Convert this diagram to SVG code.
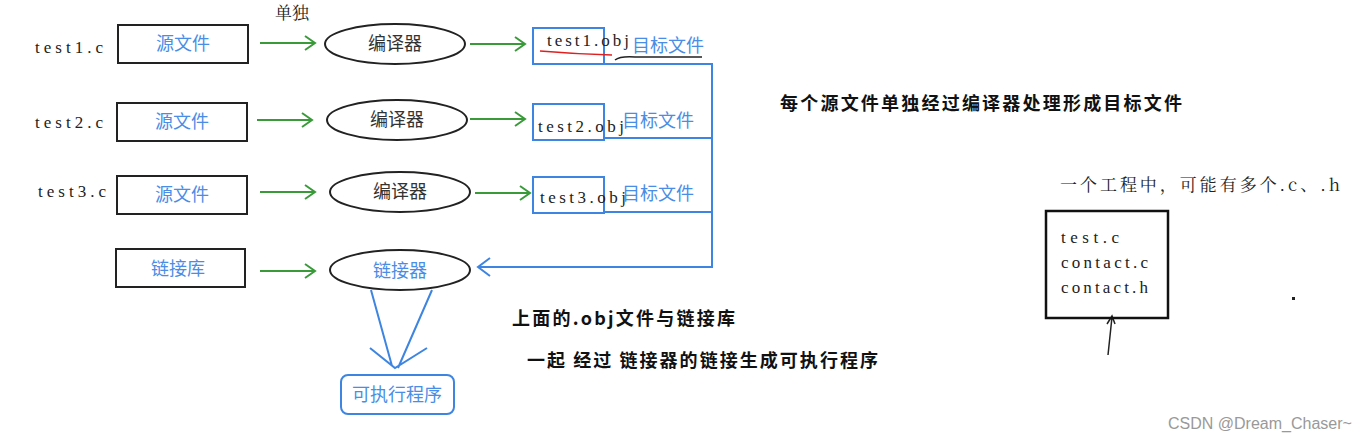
<svg xmlns="http://www.w3.org/2000/svg" width="1369" height="442" viewBox="0 0 1369 442">
<defs>
<style>
.mono{font-family:"Liberation Serif","Noto Serif CJK SC",serif;font-size:17px;fill:#222}
.serifcjk{font-family:"Noto Serif CJK SC","Noto Sans CJK SC","Liberation Serif",serif;font-size:17px;fill:#222}
.blue{font-family:"Noto Sans CJK SC",sans-serif;font-size:18px;fill:#4a8de6}
.dark{font-family:"Noto Sans CJK SC",sans-serif;font-size:18px;fill:#333}
.bold{font-family:"Noto Sans CJK SC",sans-serif;font-size:18px;font-weight:bold;fill:#111}
.box{fill:#fff;stroke:#222;stroke-width:2}
.ell{fill:#fff;stroke:#222;stroke-width:2}
.bbox{fill:none;stroke:#3d85e0;stroke-width:2}
.g{fill:none;stroke:#3a9a3a;stroke-width:2}
.b{fill:none;stroke:#3d85e0;stroke-width:2}
</style>
</defs>
<rect width="1369" height="442" fill="#fff"/>

<text class="serifcjk" x="275" y="19">单独</text>

<g id="src1"><text class="mono" x="35" y="53" textLength="68">test1.c</text><rect class="box" x="118" y="25" width="130" height="38"/><text class="blue" x="183" y="50" text-anchor="middle">源文件</text></g>
<g id="src2"><text class="mono" x="35" y="128" textLength="68">test2.c</text><rect class="box" x="117" y="103" width="130" height="38"/><text class="blue" x="182" y="128" text-anchor="middle">源文件</text></g>
<g id="src3"><text class="mono" x="38" y="197" textLength="68">test3.c</text><rect class="box" x="117" y="176" width="130" height="38"/><text class="blue" x="182" y="201" text-anchor="middle">源文件</text></g>
<g id="lib"><rect class="box" x="116" y="249" width="129" height="38"/><text class="blue" x="178" y="275" text-anchor="middle">链接库</text></g>

<g id="cc1"><ellipse class="ell" cx="395" cy="44" rx="70" ry="20"/><text class="dark" x="395" y="50" text-anchor="middle">编译器</text></g>
<g id="cc2"><ellipse class="ell" cx="397" cy="120" rx="70" ry="20"/><text class="dark" x="397" y="126" text-anchor="middle">编译器</text></g>
<g id="cc3"><ellipse class="ell" cx="400" cy="192" rx="70" ry="20"/><text class="dark" x="400" y="198" text-anchor="middle">编译器</text></g>
<g id="linker"><ellipse class="ell" cx="400" cy="270" rx="70" ry="20"/><text class="blue" x="400" y="277" text-anchor="middle">链接器</text></g>

<g id="obj1"><rect class="bbox" x="533" y="28" width="71" height="36"/><text class="mono" x="547" y="46" textLength="82">test1.obj</text><path d="M540 51 Q575 54 612 55" fill="none" stroke="#e02020" stroke-width="1.5"/><text class="blue" x="632" y="52" font-size="17">目标文件</text><path d="M615 60 Q620 56 635 57 L702 57" fill="none" stroke="#222" stroke-width="1.5"/></g>
<g id="obj2"><rect class="bbox" x="533" y="104" width="71" height="36"/><text class="mono" x="538" y="132" textLength="86">test2.obj</text><text class="blue" x="622" y="127">目标文件</text></g>
<g id="obj3"><rect class="bbox" x="533" y="177" width="71" height="36"/><text class="mono" x="540" y="203" textLength="86">test3.obj</text><text class="blue" x="622" y="200">目标文件</text></g>

<g id="exe"><rect x="341" y="375" width="113" height="39" rx="7" fill="none" stroke="#3d85e0" stroke-width="2"/><text class="blue" x="397" y="401" text-anchor="middle">可执行程序</text></g>

<g id="connectors">
<path class="g" d="M260 43 H315 M305 36 L315 43 L305 50"/>
<path class="g" d="M470 44 H525 M515 37 L525 44 L515 51"/>
<path class="g" d="M257 120 H312 M302 113 L312 120 L302 127"/>
<path class="g" d="M470 119 H525 M515 112 L525 119 L515 126"/>
<path class="g" d="M260 192 H315 M305 185 L315 192 L305 199"/>
<path class="g" d="M475 193 H530 M520 186 L530 193 L520 200"/>
<path class="g" d="M260 271 H315 M305 264 L315 271 L305 278"/>
<path class="b" d="M604 64 H712 V267 H478 M490 258 L478 267 L490 276"/>
<path class="b" d="M604 138 H712"/>
<path class="b" d="M604 212 H712"/>
<path class="b" d="M371 290 L392 366 M432 290 L398 368 M370 348 L395 368 L427 348"/>
<path d="M1108 355 L1112 317 M1107 324 L1112 316 L1115 324" fill="none" stroke="#222" stroke-width="1.5"/>
</g>

<g id="project"><rect x="1046" y="211" width="122" height="107" fill="none" stroke="#111" stroke-width="2.5"/><text class="mono" x="1061" y="243" textLength="58">test.c</text><text class="mono" x="1061" y="268" textLength="87">contact.c</text><text class="mono" x="1061" y="293" textLength="87">contact.h</text></g>

<text class="serifcjk" x="1060" y="191" font-size="18" textLength="280">一个工程中，可能有多个.c、.h</text>
<rect x="1292" y="297" width="3" height="3" fill="#222"/>

<text class="bold" x="780" y="110" font-size="19" textLength="402">每个源文件单独经过编译器处理形成目标文件</text>
<text class="bold" x="512" y="325" textLength="223">上面的.obj文件与链接库</text>
<text class="bold" x="527" y="367" textLength="351">一起 经过 链接器的链接生成可执行程序</text>

<text x="1168" y="429" font-family="Liberation Sans,sans-serif" font-size="16" fill="#999">CSDN @Dream_Chaser~</text>
</svg>
